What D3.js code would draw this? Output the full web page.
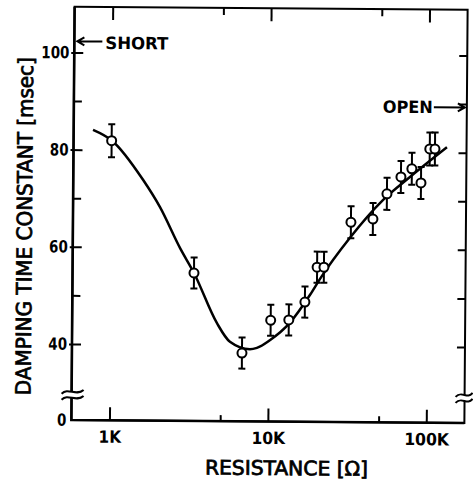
<!DOCTYPE html>
<html>
<head>
<meta charset="utf-8">
<script src="https://cdn.jsdelivr.net/npm/d3@7"></script>
<style>
body { margin: 0; background: #fff; }
text { font-family: "DejaVu Sans Condensed", "DejaVu Sans", sans-serif; font-weight: bold; fill: #000; }
text.title { font-weight: normal; stroke: #000; stroke-width: 0.7px; }
</style>
</head>
<body>
<script>
// measured points: resistance (ohm) vs damping time constant (msec)
let resistance = [1000, 3360, 6810, 10300, 13400, 16900, 20100, 22200, 32700, 45000, 55000, 67300, 78800, 90100, 102000, 110000];
let tau = [81.9, 54.8, 38.4, 45.2, 45.3, 49.0, 56.2, 56.2, 65.5, 66.2, 71.4, 74.9, 76.6, 73.7, 80.7, 80.7];
let tauErr = [3.4, 3.2, 3.2, 3.2, 3.2, 3.2, 3.2, 3.2, 3.3, 3.3, 3.3, 3.3, 3.3, 3.3, 3.4, 3.4];

// hand drawn curve through the points
let fitR = [762, 1006, 1585, 2035, 2737, 3360, 4720, 5710, 7640, 8460, 10200, 13600, 18200, 21000, 32300, 51900, 76700, 131000];
let fitTau = [84.1, 81.9, 73.9, 68.3, 59.9, 54.8, 44.5, 40.7, 39.2, 39.5, 41.1, 44.7, 50.5, 53.8, 62.3, 70.1, 74.9, 81.1];

let xMajor = [1000, 10000, 100000];
let xMajorLabels = ['1K', '10K', '100K'];
let xMinor = [5000, 50000];
let yMajor = [0, 40, 60, 80, 100];
let yMinor = [50, 70, 90];
let yRight = [40, 50, 60, 70, 80, 90, 100];

let shortVal = 102.3, openVal = 89.3, breakVal = 27.5;

let width = 473, height = 483;
let pLeft = 73, pRight = 466, pTop = 8.3, pBottom = 421.5;
let font = '"DejaVu Sans Condensed", "DejaVu Sans", sans-serif';

let svg = d3.select('body').append('svg')
    .attr('width', width)
    .attr('height', height);

// the scan is a little tilted
let g = svg.append('g').attr('transform', 'rotate(0.45, 270, 215)');

let x = d3.scaleLog().domain([575, 174000]).range([pLeft, pRight]);
let y = d3.scaleLinear().domain([0, 30, 109.4]).range([pBottom, 394.1, pTop]);

// frame
g.append('rect')
    .attr('x', pLeft).attr('y', pTop)
    .attr('width', pRight - pLeft).attr('height', pBottom - pTop)
    .attr('fill', 'none').attr('stroke', '#000').attr('stroke-width', 2);
g.append('path')
    .attr('d', `M${pLeft},${pTop}V${pBottom}H${pRight}`)
    .attr('fill', 'none').attr('stroke', '#000').attr('stroke-width', 2.6);

function styleAxis(sel, size) {
    sel.attr('font-family', font).attr('font-size', size);
    sel.select('.domain').remove();
    sel.selectAll('line').attr('stroke-width', 2);
}

// bottom
g.append('g').attr('transform', `translate(0,${pBottom})`)
    .call(d3.axisBottom(x).tickValues(xMajor).tickSize(-13).tickPadding(10.5)
        .tickFormat((d, i) => xMajorLabels[i]))
    .call(s => styleAxis(s, 17))
    .selectAll('text').attr('textLength', d => xMajorLabels[xMajor.indexOf(d)].length * 11.2)
    .attr('lengthAdjust', 'spacingAndGlyphs');
g.append('g').attr('transform', `translate(0,${pBottom})`)
    .call(d3.axisBottom(x).tickValues(xMinor).tickSize(-6).tickFormat(''))
    .call(s => styleAxis(s, 17));

// top
g.append('g').attr('transform', `translate(0,${pTop})`)
    .call(d3.axisTop(x).tickValues(xMajor).tickSize(-13).tickFormat(''))
    .call(s => styleAxis(s, 17));
g.append('g').attr('transform', `translate(0,${pTop})`)
    .call(d3.axisTop(x).tickValues(xMinor).tickSize(-7).tickFormat(''))
    .call(s => styleAxis(s, 17));

// left
let yl = g.append('g').attr('transform', `translate(${pLeft},0)`)
    .call(d3.axisLeft(y).tickValues(yMajor).tickSize(-9).tickPadding(5))
    .call(s => styleAxis(s, 17));
yl.selectAll('line').attr('x1', -3);
yl.selectAll('.tick').filter(d => d === 0).select('line').remove();
yl.selectAll('text')
    .attr('textLength', d => String(d).length * 9.3)
    .attr('lengthAdjust', 'spacingAndGlyphs');
g.append('g').attr('transform', `translate(${pLeft},0)`)
    .call(d3.axisLeft(y).tickValues(yMinor).tickSize(-8).tickFormat(''))
    .call(s => styleAxis(s, 17));

// right
g.append('g').attr('transform', `translate(${pRight},0)`)
    .call(d3.axisRight(y).tickValues(yRight).tickSize(-8).tickFormat(''))
    .call(s => styleAxis(s, 17));

// axis breaks
[[pLeft, -10, 12], [pRight, -9, 8]].forEach(([bx, a, b]) => {
    let by = y(breakVal);
    g.append('rect').attr('x', bx - 2).attr('y', by - 3).attr('width', 4).attr('height', 6).attr('fill', '#fff');
    [-3, 3].forEach(off => {
        let yy = by + off;
        g.append('path')
            .attr('d', `M${bx + a},${yy + 2}C${bx + a / 3},${yy - 5} ${bx + b / 3},${yy + 5} ${bx + b},${yy - 2}`)
            .attr('fill', 'none').attr('stroke', '#000').attr('stroke-width', 2);
    });
});

// fitted curve
let line = d3.line()
    .x(d => x(d[0]))
    .y(d => y(d[1]))
    .curve(d3.curveMonotoneX);
g.append('path')
    .datum(d3.zip(fitR, fitTau))
    .attr('d', line)
    .attr('fill', 'none').attr('stroke', '#000').attr('stroke-width', 2.5);

// error bars + points
let pts = g.selectAll('.pt').data(d3.zip(resistance, tau, tauErr)).enter().append('g').attr('class', 'pt');
pts.append('line')
    .attr('x1', d => x(d[0])).attr('x2', d => x(d[0]))
    .attr('y1', d => y(d[1] - d[2])).attr('y2', d => y(d[1] + d[2]))
    .attr('stroke', '#000').attr('stroke-width', 2);
[-1, 1].forEach(s => {
    pts.append('line')
        .attr('x1', d => x(d[0]) - 3.5).attr('x2', d => x(d[0]) + 3.5)
        .attr('y1', d => y(d[1] + s * d[2])).attr('y2', d => y(d[1] + s * d[2]))
        .attr('stroke', '#000').attr('stroke-width', 2);
});
pts.append('circle')
    .attr('cx', d => x(d[0])).attr('cy', d => y(d[1]))
    .attr('r', 4.5)
    .attr('fill', '#fff').attr('stroke', '#000').attr('stroke-width', 2);

// SHORT / OPEN markers
let sy = y(shortVal);
g.append('path')
    .attr('d', `M${pLeft + 3},${sy}H${pLeft + 28}M${pLeft + 10},${sy - 4}L${pLeft + 3},${sy}L${pLeft + 10},${sy + 4}`)
    .attr('fill', 'none').attr('stroke', '#000').attr('stroke-width', 2);
g.append('text').attr('x', pLeft + 31).attr('y', sy + 7.5)
    .attr('font-size', 17).attr('textLength', 63).attr('lengthAdjust', 'spacingAndGlyphs')
    .text('SHORT');
let oy = y(openVal);
g.append('path')
    .attr('d', `M${pRight - 33},${oy}H${pRight - 2}M${pRight - 9},${oy - 4}L${pRight - 2},${oy}L${pRight - 9},${oy + 4}`)
    .attr('fill', 'none').attr('stroke', '#000').attr('stroke-width', 2);
g.append('text').attr('x', pRight - 84).attr('y', oy + 6)
    .attr('font-size', 17).attr('textLength', 50).attr('lengthAdjust', 'spacingAndGlyphs')
    .text('OPEN');

// titles
g.append('text').attr('class', 'title')
    .attr('x', 288.5).attr('y', 475)
    .attr('text-anchor', 'middle')
    .attr('font-size', 20).attr('textLength', 163).attr('lengthAdjust', 'spacingAndGlyphs')
    .text('RESISTANCE [Ω]');
g.append('text').attr('class', 'title')
    .attr('transform', 'translate(32,228) rotate(-90)')
    .attr('text-anchor', 'middle')
    .attr('font-size', 21).attr('textLength', 338).attr('lengthAdjust', 'spacingAndGlyphs')
    .text('DAMPING TIME CONSTANT [msec]');
</script>
</body>
</html>
